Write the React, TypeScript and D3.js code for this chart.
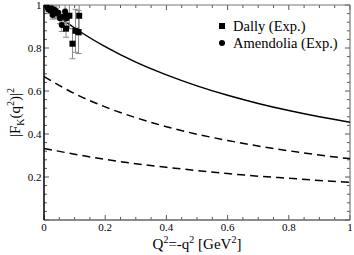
import * as d3 from "d3";

// curves (Q^2 in GeV^2)
const qGrid = [0, 0.1, 0.2, 0.3, 0.4, 0.5, 0.6, 0.7, 0.8, 0.9, 1.0];
const solidVals = [1.0, 0.893, 0.806, 0.734, 0.675, 0.624, 0.58, 0.542, 0.509, 0.48, 0.455];
const dashMidVals = [0.667, 0.588, 0.526, 0.476, 0.434, 0.399, 0.37, 0.344, 0.322, 0.302, 0.285];
const dashLowVals = [0.333, 0.306, 0.282, 0.262, 0.245, 0.23, 0.216, 0.204, 0.194, 0.184, 0.175];

// Dally (squares): x, y, err
const dallyX = [0.036, 0.072, 0.083, 0.093, 0.103, 0.113, 0.115];
const dallyY = [0.965, 0.89, 0.95, 0.82, 0.88, 0.874, 0.95];
const dallyErr = [0.03, 0.04, 0.06, 0.07, 0.1, 0.1, 0.09];

// Amendolia (circles)
const amX = [0.011, 0.014, 0.02, 0.025, 0.028, 0.036, 0.042, 0.047, 0.052, 0.058, 0.062, 0.069, 0.072, 0.074];
const amY = [0.99, 0.98, 0.975, 0.985, 0.953, 0.977, 0.96, 0.964, 0.938, 0.907, 0.945, 0.97, 0.953, 0.938];
const amErr = [0.01, 0.012, 0.015, 0.015, 0.018, 0.02, 0.02, 0.022, 0.025, 0.03, 0.03, 0.03, 0.035, 0.035];

const xTicks = [0, 0.2, 0.4, 0.6, 0.8, 1];
const yTicks = [0.2, 0.4, 0.6, 0.8, 1];

export default function App() {
  const width = 354,
    height = 255;
  const margin = { left: 44, right: 4, top: 5, bottom: 35 };
  const x = d3.scaleLinear().domain([0, 1]).range([margin.left, width - margin.right]);
  const y = d3.scaleLinear().domain([0, 1]).range([height - margin.bottom, margin.top]);
  const x0 = x(0), x1 = x(1), y0 = y(0), y1 = y(1);

  const line = d3
    .line<number>()
    .x((_, i) => x(qGrid[i]))
    .y((d) => y(d))
    .curve(d3.curveMonotoneX);

  const xMinor = d3.range(0, 1.0001, 0.05);
  const yMinor = d3.range(0, 1.0001, 0.04);
  const font = "Liberation Serif, DejaVu Serif, serif";

  return (
    <svg
      width={width}
      height={height}
      style={{ position: "absolute", left: 0, top: 0, background: "white" }}
    >
      <g fontFamily={font}>
      <defs>
        <clipPath id="plot">
          <rect x={x0} y={y1} width={x1 - x0} height={y0 - y1} />
        </clipPath>
      </defs>

      {/* ticks: bottom / top */}
      {xMinor.map((t, i) => {
        const major = Math.abs(t / 0.2 - Math.round(t / 0.2)) < 1e-6;
        const len = major ? 5 : 3;
        return (
          <g key={"xt" + i} stroke="#555" strokeWidth={1}>
            <line x1={x(t)} x2={x(t)} y1={y0} y2={y0 - len} />
            <line x1={x(t)} x2={x(t)} y1={y1} y2={y1 + len} />
          </g>
        );
      })}
      {yMinor.map((t, i) => {
        const major = Math.abs(t / 0.2 - Math.round(t / 0.2)) < 1e-6;
        const len = major ? 5 : 3;
        return (
          <g key={"yt" + i} stroke="#555" strokeWidth={1}>
            <line x1={x0} x2={x0 + len} y1={y(t)} y2={y(t)} />
            <line x1={x1} x2={x1 - len} y1={y(t)} y2={y(t)} />
          </g>
        );
      })}

      {/* frame */}
      <line x1={x0} x2={x1} y1={y1} y2={y1} stroke="#777" strokeWidth={1.2} />
      <line x1={x1} x2={x1} y1={y1} y2={y0} stroke="#777" strokeWidth={1.2} />
      <line x1={x0} x2={x1} y1={y0} y2={y0} stroke="#666" strokeWidth={1.4} />
      <line x1={x0} x2={x0} y1={y1} y2={y0} stroke="#000" strokeWidth={1.5} />

      {/* tick labels */}
      {xTicks.map((t) => (
        <text key={"xl" + t} x={x(t)} y={y0 + 10.5} textAnchor="middle" fontSize={11}>
          {String(t)}
        </text>
      ))}
      {yTicks.map((t) => (
        <text key={"yl" + t} x={x0 - 2.5} y={y(t) + 3.8} textAnchor="end" fontSize={11}>
          {String(t)}
        </text>
      ))}

      {/* curves */}
      <g clipPath="url(#plot)" fill="none" stroke="#000" strokeWidth={1.5}>
        <path d={line(solidVals) ?? ""} />
        <path d={line(dashMidVals) ?? ""} strokeDasharray="8,5" />
        <path d={line(dashLowVals) ?? ""} strokeDasharray="8,5" />
      </g>

      {/* data */}
      <g clipPath="url(#plot)">
        {dallyX.map((d, i) => (
          <g key={"de" + i} stroke="#888" strokeWidth={1}>
            <line x1={x(d)} x2={x(d)} y1={y(dallyY[i] - dallyErr[i])} y2={y(dallyY[i] + dallyErr[i])} />
            <line x1={x(d) - 3} x2={x(d) + 3} y1={y(dallyY[i] - dallyErr[i])} y2={y(dallyY[i] - dallyErr[i])} />
            <line x1={x(d) - 3} x2={x(d) + 3} y1={y(dallyY[i] + dallyErr[i])} y2={y(dallyY[i] + dallyErr[i])} />
          </g>
        ))}
        {amX.map((d, i) => (
          <g key={"ae" + i} stroke="#888" strokeWidth={1}>
            <line x1={x(d)} x2={x(d)} y1={y(amY[i] - amErr[i])} y2={y(amY[i] + amErr[i])} />
            <line x1={x(d) - 3} x2={x(d) + 3} y1={y(amY[i] - amErr[i])} y2={y(amY[i] - amErr[i])} />
          </g>
        ))}
        {amX.map((d, i) => (
          <circle key={"ac" + i} cx={x(d)} cy={y(amY[i])} r={3} fill="#000" />
        ))}
        {dallyX.map((d, i) => (
          <rect key={"dr" + i} x={x(d) - 3} y={y(dallyY[i]) - 3} width={6} height={6} fill="#000" />
        ))}
      </g>

      {/* legend */}
      <rect x={219} y={23} width={6} height={6} fill="#000" />
      <text x={233} y={31} fontSize={14.5}>Dally (Exp.)</text>
      <circle cx={222} cy={43} r={3} fill="#000" />
      <text x={233} y={48} fontSize={14.5}>Amendolia (Exp.)</text>

      {/* axis titles */}
      <text x={(x0 + x1) / 2} y={249} textAnchor="middle" fontSize={15}>
        Q<tspan dy={-6} fontSize={10}>2</tspan>
        <tspan dy={6}>=-q</tspan>
        <tspan dy={-6} fontSize={10}>2</tspan>
        <tspan dy={6}> [GeV</tspan>
        <tspan dy={-6} fontSize={10}>2</tspan>
        <tspan dy={6}>]</tspan>
      </text>
      <text transform={`translate(20,${(y0 + y1) / 2}) rotate(-90)`} textAnchor="middle" fontSize={15}>
        |F<tspan dy={4} fontSize={10}>K</tspan>
        <tspan dy={-4}>(q</tspan>
        <tspan dy={-6} fontSize={10}>2</tspan>
        <tspan dy={6}>)|</tspan>
        <tspan dy={-6} fontSize={10}>2</tspan>
      </text>
      </g>
    </svg>
  );
}
